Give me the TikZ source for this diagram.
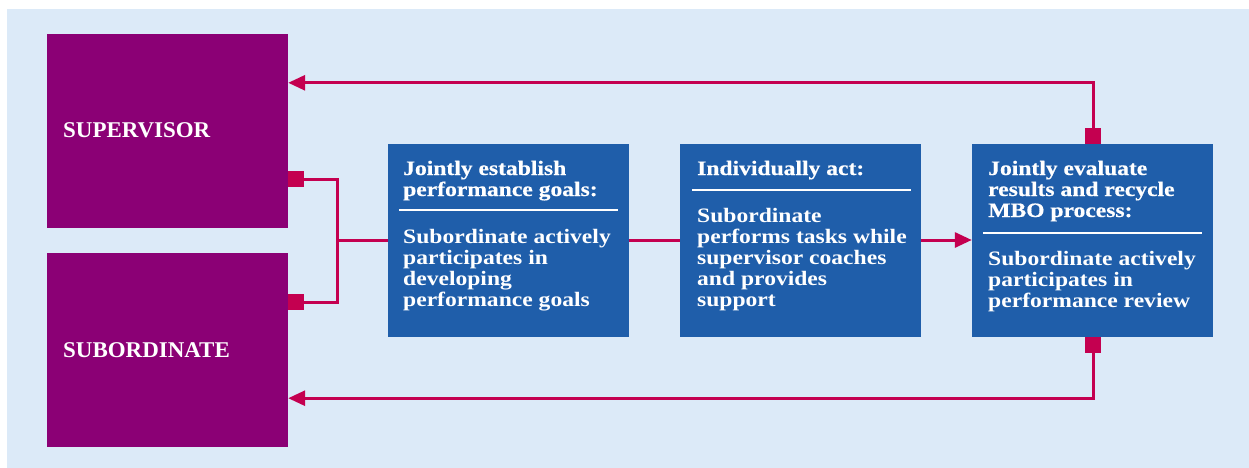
\documentclass[tikz,border=0pt]{standalone}
\usepackage{fontspec}
\usetikzlibrary{arrows.meta}
\newfontfamily\titlefont[FakeStretch=1.15,FakeBold=0.5]{Liberation Serif Bold}
\newfontfamily\bodyfont[FakeStretch=1.15]{Liberation Serif Bold}
\newfontfamily\capfont[FakeStretch=1.02]{Liberation Serif Bold}
\definecolor{bgblue}{RGB}{220,234,248}
\definecolor{mbopurple}{RGB}{139,0,117}
\definecolor{mboblue}{RGB}{31,94,170}
\definecolor{mbopink}{RGB}{196,0,80}
\newcommand{\boxtxt}[1]{\parbox[t]{230pt}{\raggedright\baselineskip=21pt #1}}
\tikzset{
  rolebox/.style={fill=mbopurple, draw=none, minimum width=241pt, minimum height=194pt, inner sep=0pt},
  stepbox/.style={fill=mboblue, draw=none, minimum width=241pt, minimum height=193pt, inner sep=0pt},
  marker/.style={fill=mbopink, draw=none, minimum size=16pt, inner sep=0pt},
  link/.style={draw=mbopink, line width=3pt},
  arrowlink/.style={link, -{Triangle[length=17pt,width=15pt]}},
  roletext/.style={text=white, anchor=base west, inner sep=0pt, font=\capfont\fontsize{22.5}{24}\selectfont},
  titletext/.style={text=white, anchor=base west, inner sep=0pt, font=\titlefont\fontsize{20.5}{21}\selectfont},
  bodytext/.style={text=white, anchor=base west, inner sep=0pt, font=\bodyfont\fontsize{20.5}{21}\selectfont},
  divider/.style={draw=white, line width=2.5pt}
}
\begin{document}
\begin{tikzpicture}[x=1pt,y=-1pt]
\useasboundingbox (0,0) rectangle (1249,468);
\fill[bgblue] (7,9) rectangle (1249,468);
% role boxes
\node[rolebox] (sup) at (167.5,131) {};
\node[rolebox] (sub) at (167.5,350) {};
\node[roletext] (suptxt) at (63,138) {SUPERVISOR};
\node[roletext] (subtxt) at (63,357) {SUBORDINATE};
% step boxes
\node[stepbox] (b1) at (508.5,240.5) {};
\node[stepbox] (b2) at (800.5,240.5) {};
\node[stepbox] (b3) at (1092.5,240.5) {};
% markers
\node[marker] (m1) at (296,179) {};
\node[marker] (m2) at (296,302) {};
\node[marker] (m3) at (1093,136) {};
\node[marker] (m4) at (1093,345) {};
% texts box 1
\node[titletext] (t1) at (403,175) {\boxtxt{Jointly establish\\performance goals:}};
\draw[divider] (399,210) coordinate (d1a) -- (618,210) coordinate (d1b);
\node[bodytext] (s1) at (403,243) {\boxtxt{Subordinate actively\\participates in\\developing\\performance goals}};
% texts box 2
\node[titletext] (t2) at (697,175) {\boxtxt{Individually act:}};
\draw[divider] (692,190) coordinate (d2a) -- (911,190) coordinate (d2b);
\node[bodytext] (s2) at (697,222) {\boxtxt{Subordinate\\performs tasks while\\supervisor coaches\\and provides\\support}};
% texts box 3
\node[titletext] (t3) at (988,175) {\boxtxt{Jointly evaluate\\results and recycle\\MBO process:}};
\draw[divider] (983,233) coordinate (d3a) -- (1202,233) coordinate (d3b);
\node[bodytext] (s3) at (988,265) {\boxtxt{Subordinate actively\\participates in\\performance review}};
% connectors
\coordinate (j) at (337,240);
\draw[link] (m1.east) -| (j) |- (m2.east);
\draw[link] (j) -- (b1.west |- j);
\draw[link] (b1.east |- j) -- (b2.west |- j);
\draw[arrowlink] (b2.east |- j) -- (b3.west |- j);
\draw[arrowlink] (m3.north) |- ([yshift=-49pt]sup.north east);
\draw[arrowlink] (m4.south) |- ([yshift=49pt]sub.south east);
\end{tikzpicture}
\end{document}
